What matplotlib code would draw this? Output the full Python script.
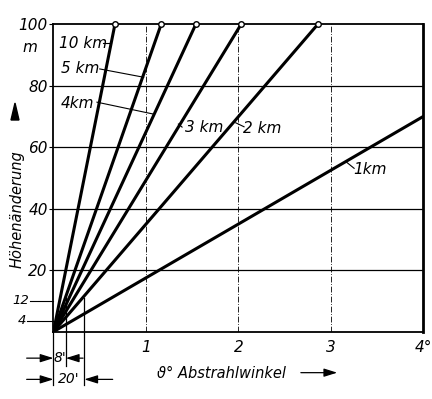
"""Höhenänderung über Abstrahlwinkel für verschiedene Entfernungen (Nachzeichnung)."""

import matplotlib

matplotlib.use("Agg")
import matplotlib.pyplot as plt
from matplotlib.patches import FancyArrowPatch, Polygon

plt.rcParams["font.family"] = ["DejaVu Sans"]
plt.rcParams["font.style"] = "italic"

# Entfernungen und Endpunkte der Geraden
DISTANCES = ["10 km", "5 km", "4km", "3 km", "2 km", "1km"]
END_ANGLE = [0.665, 1.165, 1.54, 2.03, 2.86, 4.0]
END_HEIGHT = [100, 100, 100, 100, 100, 70]

# Beschriftungen: Textposition und Hinweislinie (Start, Ende)
LABEL_POS = [(0.06, 93.8), (0.08, 85.7), (0.08, 74.3), (1.42, 66.5), (2.05, 66.1), (3.24, 52.6)]
LEADER_FROM = [(0.53, 93.8), (0.50, 85.4), (0.47, 74.6), (1.39, 66.5), (2.06, 66.6), (3.25, 53.1)]
LEADER_TO = [(0.62, 93.8), (0.975, 82.7), (1.085, 70.7), (1.35, 67.5), (1.97, 67.9), (3.16, 55.3)]

X_TICKS = [1, 2, 3, 4]
X_TICK_LABELS = ["1", "2", "3", "4°"]
Y_TICKS = [20, 40, 60, 80, 100]
Y_TICK_LABELS = ["20", "40", "60", "80", "100"]
SMALL_TICK_LABELS = ["12", "4"]

ANGLE_8 = 8 / 60
ANGLE_20 = 20 / 60


def main() -> None:
    fig = plt.figure(figsize=(4.32, 3.99), dpi=100)
    ax = fig.add_axes([0.1238, 0.1687, 0.8565, 0.7711])
    ax.set_xlim(0, 4)
    ax.set_ylim(0, 100)

    for x in X_TICKS[:-1]:
        ax.axvline(x, color="black", lw=0.6, ls=(0, (7, 2, 1, 2)), zorder=1)
    for y in Y_TICKS[:-1]:
        ax.axhline(y, color="black", lw=0.9, zorder=1)

    for angle, height in zip(END_ANGLE, END_HEIGHT):
        ax.plot([0, angle], [0, height], color="black", lw=2.2, solid_capstyle="butt", zorder=3)
        if height == 100:
            ax.plot(angle, height, "o", mfc="white", mec="black", ms=4, mew=1,
                    clip_on=False, zorder=5)

    for name, pos, p0, p1 in zip(DISTANCES, LABEL_POS, LEADER_FROM, LEADER_TO):
        ax.text(pos[0], pos[1], name, fontsize=11, ha="left", va="center", zorder=4)
        ax.plot([p0[0], p1[0]], [p0[1], p1[1]], color="black", lw=0.8, zorder=4)

    for side in ["left", "bottom", "top"]:
        ax.spines[side].set_linewidth(1.3)
    ax.spines["right"].set_linewidth(2.0)

    ax.set_xticks(X_TICKS)
    ax.set_xticklabels(X_TICK_LABELS, fontsize=11)
    ax.tick_params(axis="x", length=0, pad=6)
    ax.set_yticks(Y_TICKS)
    ax.set_yticklabels(Y_TICK_LABELS, fontsize=11)
    ax.tick_params(axis="y", length=3, width=0.8, pad=1)

    # kleine Marken 12 und 4 mit Hinweislinien
    for label, y, x_text in zip(SMALL_TICK_LABELS, [10.0, 3.6], [-0.265, -0.30]):
        ax.plot([x_text + 0.01, 0], [y, y], color="black", lw=0.8, clip_on=False)
        ax.text(x_text, y, label, fontsize=9.5, ha="right", va="center", clip_on=False)

    # Maßlinien für 8' und 20'
    ax.plot([0, 0], [0, -17.4], color="black", lw=0.9, clip_on=False)
    ax.plot([ANGLE_8, ANGLE_8], [11, -11], color="black", lw=0.9, clip_on=False)
    ax.plot([ANGLE_20, ANGLE_20], [11, -17.4], color="black", lw=0.9, clip_on=False)
    arrow = dict(arrowstyle="-|>,head_length=0.8,head_width=0.25", color="black", lw=0.9,
                 shrinkA=0, shrinkB=0)
    for y, right_from, right_to in [(-8.6, 0.32, ANGLE_8), (-15.5, 0.64, ANGLE_20)]:
        ax.annotate("", xy=(0, y), xytext=(-0.29, y), arrowprops=arrow, annotation_clip=False)
        ax.annotate("", xy=(right_to, y), xytext=(right_from, y), arrowprops=arrow,
                    annotation_clip=False)
    ax.text(0.067, -8.6, "8'", fontsize=10, ha="center", va="center", clip_on=False)
    ax.text(0.165, -15.5, "20'", fontsize=10, ha="center", va="center", clip_on=False)

    ax.text(-0.25, 92.5, "m", fontsize=11, ha="center", va="center", clip_on=False)
    fig.text(0.040, 0.476, "Höhenänderung", rotation=90, fontsize=10.5,
             ha="center", va="center")
    fig.add_artist(Polygon([(15 / 432, 1 - 103 / 399), (11 / 432, 1 - 120 / 399),
                            (19 / 432, 1 - 120 / 399)], closed=True,
                           transform=fig.transFigure, color="black"))

    fig.text(0.363, 0.065, "ϑ° Abstrahlwinkel", fontsize=10.5, ha="left", va="center")
    fig.add_artist(FancyArrowPatch(
        (0.690, 0.066), (0.787, 0.066), transform=fig.transFigure,
        arrowstyle="-|>,head_length=0.8,head_width=0.25", color="black", lw=0.9,
        mutation_scale=10))

    fig.savefig("out.png", dpi=100)
    plt.close(fig)


if __name__ == "__main__":
    main()
